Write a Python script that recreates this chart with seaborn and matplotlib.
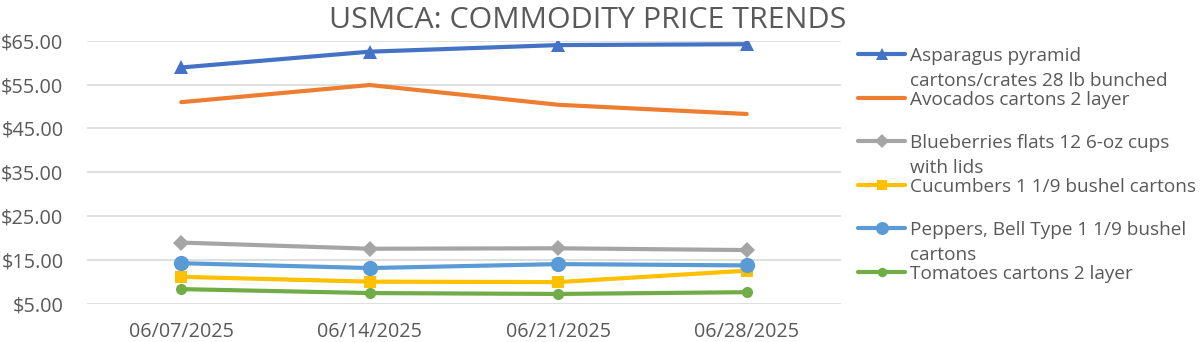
import matplotlib
matplotlib.use("Agg")
import matplotlib.pyplot as plt
from matplotlib.lines import Line2D
from matplotlib.ticker import StrMethodFormatter, FixedLocator
import seaborn as sns
import pandas as pd

dates = ["06/07/2025", "06/14/2025", "06/21/2025", "06/28/2025"]
series_names = [
    "Asparagus pyramid\ncartons/crates 28 lb bunched",
    "Avocados cartons 2 layer",
    "Blueberries flats 12 6-oz cups\nwith lids",
    "Cucumbers 1 1/9 bushel cartons",
    "Peppers, Bell Type 1 1/9 bushel\ncartons",
    "Tomatoes cartons 2 layer",
]
asparagus = [58.9, 62.5, 64.0, 64.2]
avocados = [51.0, 54.9, 50.4, 48.3]
blueberries = [19.0, 17.6, 17.7, 17.3]
cucumbers = [11.2, 10.1, 10.0, 12.6]
peppers = [14.3, 13.2, 14.1, 13.8]
tomatoes = [8.4, 7.5, 7.3, 7.7]
values = [asparagus, avocados, blueberries, cucumbers, peppers, tomatoes]
y_ticks = [5, 15, 25, 35, 45, 55, 65]
title = "USMCA: COMMODITY PRICE TRENDS"

colors = ["#4472C4", "#ED7D31", "#A5A5A5", "#FFC000", "#5B9BD5", "#70AD47"]
markers = ["^", None, "D", "s", "o", "o"]
msizes = [10, 0, 8, 9, 11, 8]

sns.set_theme(style="white")
plt.rcParams["font.family"] = ["Open Sans", "DejaVu Sans"]

fig = plt.figure(figsize=(12, 3.42), dpi=100)
ax = fig.add_axes([0.0725, 0.111, 0.7008 - 0.0725, 0.881 - 0.111])

for name, vals, c, m, ms in zip(series_names, values, colors, markers, msizes):
    df = pd.DataFrame({"date": dates, "price": vals})
    kw = dict(marker=m, markersize=ms, markeredgewidth=0) if m else {}
    sns.lineplot(data=df, x="date", y="price", color=c, linewidth=3.0,
                 ax=ax, sort=False, solid_capstyle="round",
                 solid_joinstyle="round", zorder=3, **kw)

ax.set_xlim(-0.5, 3.5)
ax.set_ylim(5, 65)
ax.yaxis.set_major_locator(FixedLocator(y_ticks))
ax.yaxis.set_major_formatter(StrMethodFormatter("${x:,.2f}"))
ax.grid(axis="y", color="#D9D9D9", linewidth=1.2)
ax.set_axisbelow(True)
for s in ax.spines.values():
    s.set_visible(False)
ax.set_xlabel("")
ax.set_ylabel("")
ax.tick_params(axis="y", length=0, pad=17, labelsize=14.3, labelcolor="#595959")
ax.tick_params(axis="x", length=0, pad=13, labelsize=14.2, labelcolor="#595959")

fig.text(0.49, 1 - 20 / 342, title, ha="center", va="center",
         fontsize=21.9, color="#595959")

# legend (Excel-like: fixed slot per entry, wrapped text lines 25 px apart)
W, H = 1200, 342
for i, (name, c, m, ms) in enumerate(zip(series_names, colors, markers, msizes)):
    yc = 54 + 43.6 * i
    yf = 1 - yc / H
    ln = Line2D([858 / W, 905 / W], [yf, yf], transform=fig.transFigure,
                color=c, linewidth=3.0, solid_capstyle="round")
    fig.add_artist(ln)
    if m:
        mk = Line2D([881.5 / W], [yf], transform=fig.transFigure, color=c,
                    marker=m, markersize=ms * 0.85, markeredgewidth=0, linestyle="none")
        fig.add_artist(mk)
    for k, line in enumerate(name.split("\n")):
        fig.text(910 / W, 1 - (yc + 25 * k) / H, line, ha="left",
                 va="center_baseline", fontsize=13.7, color="#595959")

fig.savefig("out.png", dpi=100)
